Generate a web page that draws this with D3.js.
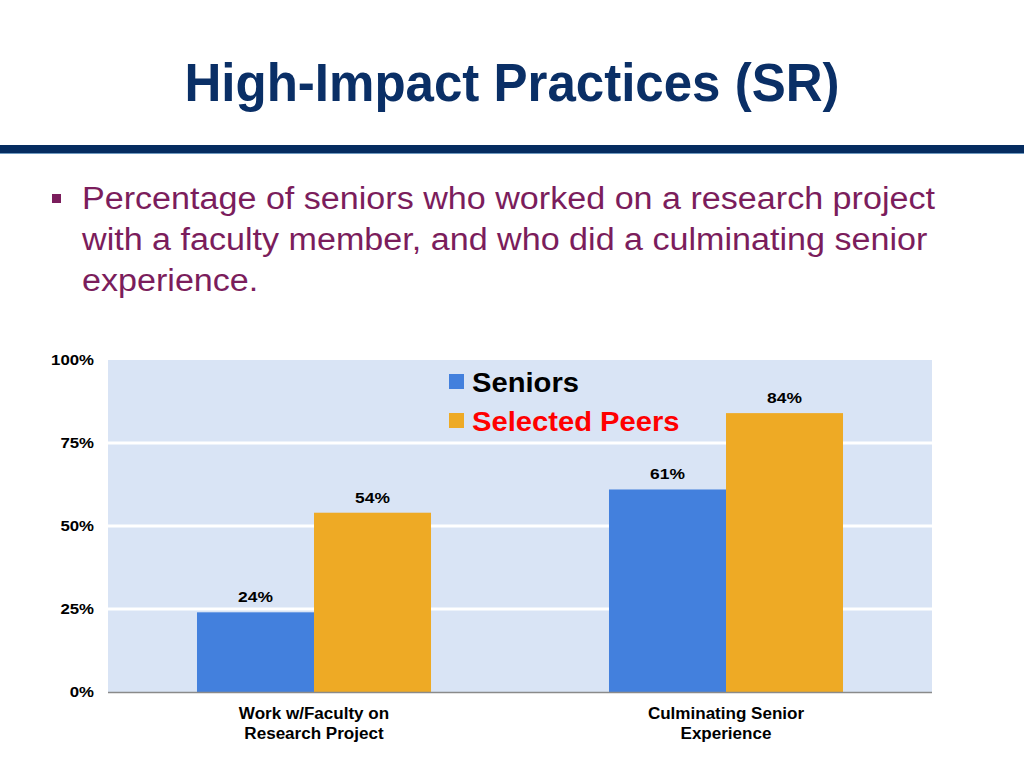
<!DOCTYPE html>
<html><head><meta charset="utf-8">
<script src="https://cdn.jsdelivr.net/npm/d3@7"></script>
<style>body{margin:0;background:#fff;font-family:"Liberation Sans",Arial,sans-serif}</style>
</head><body>
<svg id="c" width="1024" height="768"></svg>
<script>
const categories = [["Work w/Faculty on","Research Project"],["Culminating Senior","Experience"]];
const seniors = [24, 61];
const peers = [54, 84];
const seriesNames = ["Seniors","Selected Peers"];
const tickValues = [0,25,50,75,100];

const svg = d3.select("#c");
const W=1024;
function stretch(sel,f){
  sel.each(function(){const l=this.getComputedTextLength();d3.select(this).attr("textLength",l*f).attr("lengthAdjust","spacingAndGlyphs");});
}
// title
const title=svg.append("text").attr("x",512).attr("y",101).attr("text-anchor","middle")
  .attr("font-size",54).attr("font-weight","bold").attr("fill","#0a2f66").text("High-Impact Practices (SR)");
stretch(title,0.945);
svg.append("rect").attr("x",0).attr("y",145).attr("width",W).attr("height",8).attr("fill","#052c60");
svg.append("rect").attr("x",0).attr("y",153).attr("width",W).attr("height",1).attr("fill","#6f9ac0");
// bullet
svg.append("rect").attr("x",52).attr("y",194).attr("width",9).attr("height",9).attr("fill","#7b1d5c");
const lines=["Percentage of seniors who worked on a research project","with a faculty member, and who did a culminating senior","experience."];
lines.forEach((t,i)=>{
  const tx=svg.append("text").attr("x",82).attr("y",209+i*41).attr("font-size",31).attr("fill","#7b1d5c").text(t);
  stretch(tx,1.10);
});

const m={l:108,r:932,t:360,b:692};
const y=d3.scaleLinear().domain([0,100]).range([m.b,m.t]);
const x0=d3.scaleBand().domain(d3.range(categories.length)).range([m.l,m.r]).padding(0);
const bw=x0.bandwidth()*0.284;
const x1=d3.scaleBand().domain([0,1]).range([-bw,bw]).padding(0);

svg.append("rect").attr("x",m.l).attr("y",m.t).attr("width",m.r-m.l).attr("height",m.b-m.t).attr("fill","#d9e4f5");
svg.append("g").selectAll("line").data(tickValues.filter(v=>v>0&&v<100)).join("line")
  .attr("x1",m.l).attr("x2",m.r).attr("y1",d=>y(d)).attr("y2",d=>y(d)).attr("stroke","#fff").attr("stroke-width",3);

const yAxis=svg.append("g").attr("transform",`translate(${m.l},0)`)
  .call(d3.axisLeft(y).tickValues(tickValues).tickFormat(d=>d+"%").tickSize(0).tickPadding(14));
yAxis.select(".domain").remove();
yAxis.selectAll("text").attr("font-size",14).attr("font-weight","bold").attr("fill","#000").attr("font-family","Liberation Sans, Arial, sans-serif");
stretch(yAxis.selectAll("text"),1.2);

const colors=["#4380dd","#eeaa25"];
const data=categories.map((c,i)=>[seniors[i],peers[i]]);
data.forEach((vals,i)=>{
  const cx=x0(i)+x0.bandwidth()/2;
  vals.forEach((v,j)=>{
    const bx=cx+x1(j);
    svg.append("rect").attr("x",bx).attr("y",y(v)).attr("width",x1.bandwidth()).attr("height",y(0)-y(v)).attr("fill",colors[j]);
    const vt=svg.append("text").attr("x",bx+x1.bandwidth()/2).attr("y",y(v)-10).attr("text-anchor","middle")
      .attr("font-size",15).attr("font-weight","bold").text(v+"%");
    stretch(vt,1.16);
  });
  categories[i].forEach((s,k)=>{
    const t=svg.append("text").attr("x",cx).attr("y",719+k*20).attr("text-anchor","middle").attr("font-size",16).attr("font-weight","bold").text(s);
    stretch(t,1.065);
  });
});
svg.append("line").attr("x1",m.l).attr("x2",m.r).attr("y1",m.b+0.5).attr("y2",m.b+0.5).attr("stroke","#8a8a8a").attr("stroke-width",1.5);

// legend
const lg=svg.append("g").attr("transform","translate(449,374)");
seriesNames.forEach((n,i)=>{
  lg.append("rect").attr("x",0).attr("y",i*39).attr("width",15).attr("height",15).attr("fill",colors[i]);
  const lt=lg.append("text").attr("x",23).attr("y",i*39+18).attr("font-size",27).attr("font-weight","bold")
    .attr("fill",i?"#ff0000":"#000").text(n);
  stretch(lt,1.08);
});
</script>
</body></html>
